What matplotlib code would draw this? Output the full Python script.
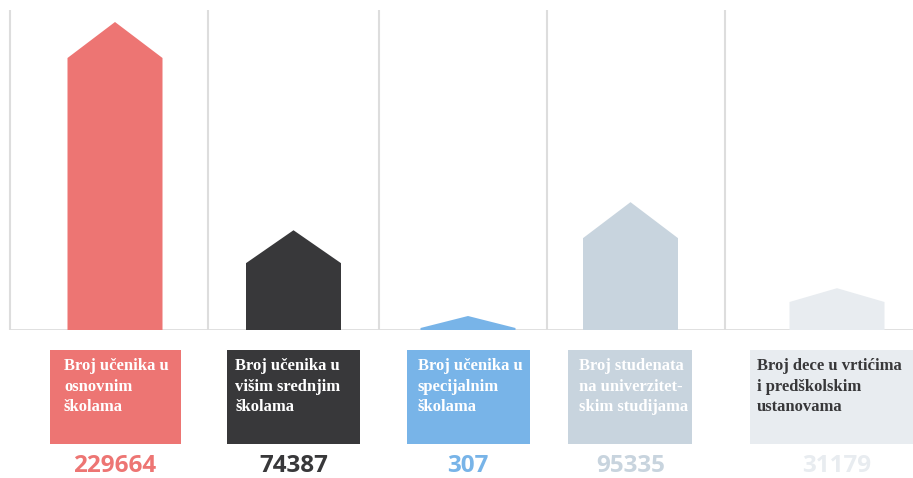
import matplotlib.pyplot as plt
from matplotlib.patches import Polygon, Rectangle

# --- data ---
labels = [
    "Broj učenika u\nosnovnim\nškolama",
    "Broj učenika u\nvišim srednjim\nškolama",
    "Broj učenika u\nspecijalnim\nškolama",
    "Broj studenata\nna univerzitet-\nskim studijama",
    "Broj dece u vrtićima\ni predškolskim\nustanovama",
]
values = [229664, 74387, 307, 95335, 31179]
colors = ["#ed7573", "#38383a", "#78b4e8", "#c8d4de", "#e8ecf0"]
text_colors = ["white", "white", "white", "white", "#38383a"]

# --- layout (pixels) ---
W, H = 913, 478
centers = [115, 293.5, 468, 630.5, 837]
grid_x = [10, 208, 379, 547, 725]
bar_w = 95
box_left = [50, 227, 407, 568, 750]
box_right = [181, 360, 530, 692, 924]
text_pad = [14, 8, 11, 11, 7]
base_px, top_px = 330, 10

fig = plt.figure(figsize=(W / 100, H / 100), dpi=100)

# chart axes: x in pixels, y in values
ax = fig.add_axes([0, 1 - base_px / H, 1, (base_px - top_px) / H])
ymax = max(values) * (base_px - top_px) / 308
ax.set_xlim(0, W)
ax.set_ylim(0, ymax)
ax.axis("off")
k = ymax / (base_px - top_px)  # value units per pixel

for gx in grid_x:
    ax.plot([gx, gx], [0, ymax], color="#dddddd", lw=1.5, zorder=1)
ax.plot([10, W], [0, 0], color="#dddddd", lw=2, zorder=1)

for c, v, col in zip(centers, values, colors):
    total = max(v, 14 * k)
    roof = min(max(0.33 * total, 12 * k), 36 * k)
    pts = [(c - bar_w / 2, 0), (c - bar_w / 2, total - roof), (c, total),
           (c + bar_w / 2, total - roof), (c + bar_w / 2, 0)]
    ax.add_patch(Polygon(pts, closed=True, facecolor=col, edgecolor="none", zorder=2))

# label axes in pixel coords
lx = fig.add_axes([0, 0, 1, 1])
lx.set_xlim(0, W)
lx.set_ylim(H, 0)
lx.axis("off")

for i in range(len(values)):
    lx.add_patch(Rectangle((box_left[i], 350), box_right[i] - box_left[i], 94,
                           facecolor=colors[i], edgecolor="none"))
    lx.text(box_left[i] + text_pad[i], 358, labels[i], ha="left", va="top",
            fontsize=12, family="Liberation Serif", fontweight="bold",
            color=text_colors[i], linespacing=1.38)
    lx.text(centers[i], 472, str(values[i]), ha="center", va="baseline",
            fontsize=17.5, family="Open Sans", fontweight="bold", color=colors[i])

fig.savefig("out.png", dpi=100)
